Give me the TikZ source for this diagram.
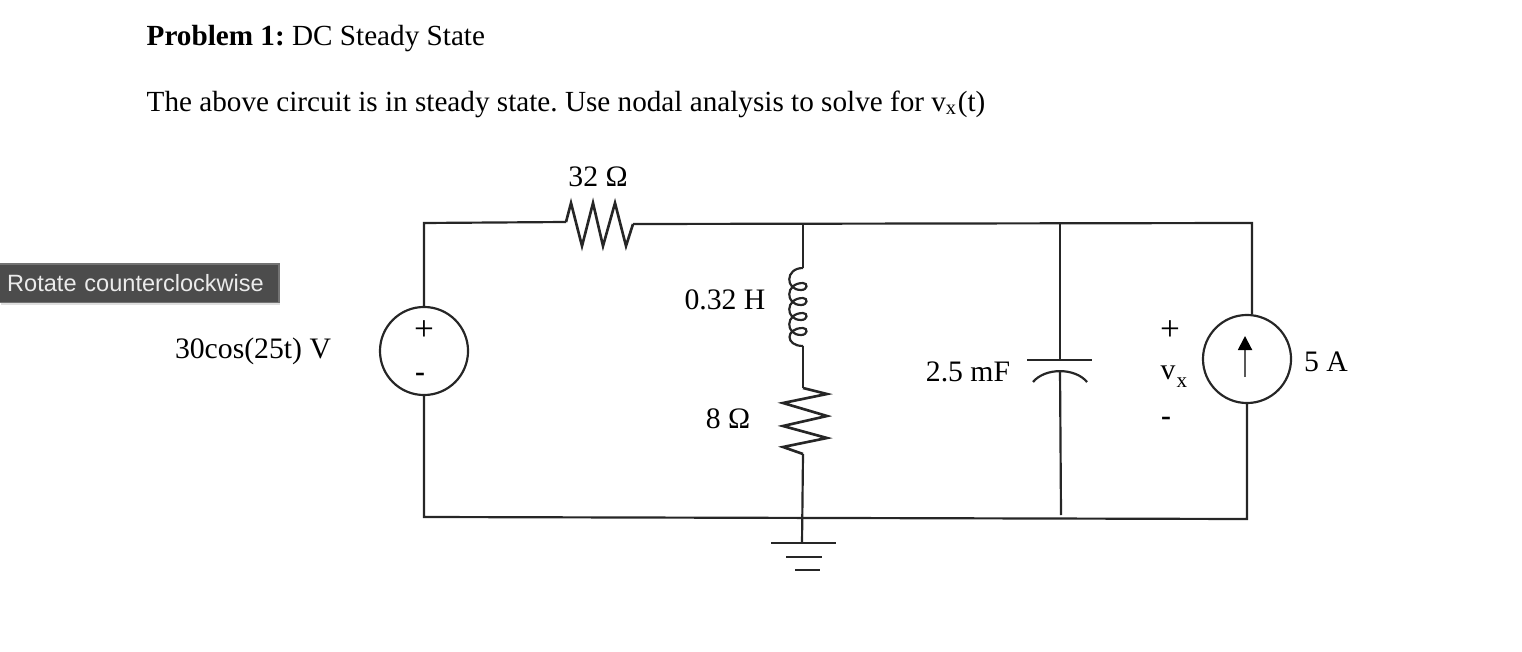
\documentclass[tikz,border=0pt]{standalone}
\usepackage{fontspec}
\setmainfont{Liberation Serif}
\newfontfamily\tipfont{Liberation Sans}
\usetikzlibrary{arrows.meta,shadows}
\frenchspacing
\tikzset{
    wire/.style={line width=.62pt,black!85},
    source/.style={circle,draw,line width=.62pt,black!85,minimum size=.88cm,inner sep=0pt},
    headline/.style={anchor=west,inner sep=0pt,font=\fontsize{8.3}{10}\selectfont},
    value/.style={inner sep=0pt,font=\fontsize{8.45}{10}\selectfont},
    sign/.style={inner sep=0pt,font=\fontsize{10}{10}\selectfont},
    tooltip/.style={anchor=north west,inner sep=0pt,minimum width=2.79cm,minimum height=.38cm,text width=2.64cm,align=left,
        fill=black!70,draw=black!55,text=black!8,drop shadow={opacity=.25,shadow xshift=.3pt,shadow yshift=-.8pt},
        font=\tipfont\fontsize{6.7}{8}\selectfont},
}
\begin{document}
\begin{tikzpicture}[x=.01cm,y=-.01cm]
    \useasboundingbox (0,0) rectangle (1522,652);

    \node[headline] (title) at (146,39) {\textbf{Problem 1:} DC Steady State};
    \node[headline] (task) at (146,104) {The above circuit is in steady state. Use nodal analysis to solve for v\textsubscript{x}(t)};
    \node[tooltip] (tip) at (-1,263.5) {Rotate counterclockwise};

    \node[source] (vs) at (424,351) {};
    \node[source] (is) at (1247,359) {};
    \coordinate (tl) at (424,223);
    \coordinate (tr) at (1252,223);
    \coordinate (bl) at (424,517);
    \coordinate (br) at (1247,519);
    \coordinate (r1a) at (566,222);
    \coordinate (r1b) at (633,224);
    \coordinate (tm) at (803,224);
    \coordinate (tc) at (1060,223);
    \coordinate (l1a) at (803,268);
    \coordinate (l1b) at (803,346);
    \coordinate (r2a) at (803,388);
    \coordinate (r2b) at (803,454);
    \coordinate (gnd) at (802,543);
    \coordinate (c1a) at (1060,360);
    \coordinate (c1b) at (1060,371);
    \coordinate (bc) at (1061,515);

    % wires
    \draw[wire] (vs) -- (tl) -- (r1a);
    \draw[wire] (r1b) -- (tr) -- (is.north -| tr);
    \draw[wire] (vs) -- (bl) -- (br) -- (is);
    \draw[wire] (tm) -- (l1a);
    \draw[wire] (l1b) -- (r2a);
    \draw[wire] (r2b) -- (gnd);
    \draw[wire] (tc) -- (c1a);
    \draw[wire] (c1b) -- (bc);

    % 32 ohm
    \draw[wire,line width=.75pt] (r1a) -- (571,203) -- (582,246) -- (593,203) -- (603,246) -- (615,203) -- (626,246) -- (r1b);
    % 8 ohm
    \draw[wire,line width=.75pt] (r2a) -- (827,394) -- (783,403) -- (827,416) -- (783,426) -- (827,438) -- (783,447) -- (r2b);
    % coil
    \draw[wire] (l1a) foreach \y in {268,283,298,313} {
        .. controls (785,\y) and (785,\y+22) .. (801,\y+22) .. controls (808,\y+22) and (808,\y+15) .. (803,\y+15)}
        .. controls (785,328) and (785,346) .. (l1b);
    % capacitor
    \draw[wire] (1027,360) -- (1092,360);
    \draw[wire] (1033,382) .. controls (1045,367.5) and (1075,367.5) .. (1087,382);
    % ground
    \draw[wire] (771,543) -- (836,543);
    \draw[wire] (786,557) -- (822,557);
    \draw[wire] (795,570) -- (820,570);
    % current arrow
    \draw[line width=.55pt,black!65,-{Triangle[black,length=.14cm,width=.14cm]}] (1245,377) -- (1245,336);

    \node[value] (r1) at (598,177) {32 Ω};
    \node[value] (l1) at (725,300) {0.32 H};
    \node[value] (r2) at (728,419) {8 Ω};
    \node[value] (vsl) at (253,351) {30cos(25t) V};
    \node[value] (c1) at (968,372) {2.5 mF};
    \node[value] (isl) at (1326,362) {5 A};

    \node[sign] (vsp) at (424,331) {+};
    \node[value] (vsm) at (420,377) {\textbf{-}};
    \node[sign] (vxp) at (1170,331) {+};
    \node[value] (vx) at (1168,373) {v};
    \node[inner sep=0pt,font=\fontsize{6}{7}\selectfont] (vxs) at (1182,383) {x};
    \node[value] (vxm) at (1166,421) {\textbf{-}};
\end{tikzpicture}
\end{document}
